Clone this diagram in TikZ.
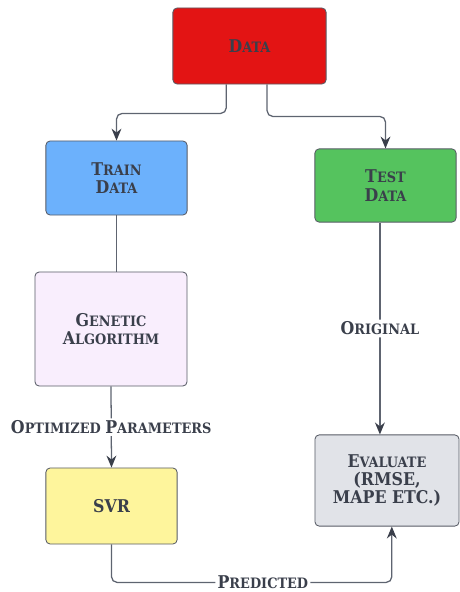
\documentclass[tikz,border=0pt]{standalone}
\usepackage{fontspec}
\setmainfont{DejaVu Serif Condensed}[BoldFont={DejaVu Serif Condensed Bold}]
\usetikzlibrary{arrows.meta,positioning}

\definecolor{datared}{HTML}{E31414}
\definecolor{trainblue}{HTML}{6CB1FC}
\definecolor{testgreen}{HTML}{55C35E}
\definecolor{galilac}{HTML}{F9EEFD}
\definecolor{svryellow}{HTML}{FEF59C}
\definecolor{evalgray}{HTML}{E1E3E8}
\definecolor{inkgray}{HTML}{3A3F4B}
\definecolor{linegray}{HTML}{5E6470}

% big initial + smaller capitals
\newcommand{\capfont}{\fontsize{12.5}{14}\selectfont}
\newcommand{\lowfont}{\fontsize{10.2}{14}\selectfont}
\newcommand{\sk}[2]{{\capfont #1}{\lowfont #2}}

\begin{document}
\begin{tikzpicture}[x=0.025cm,y=-0.025cm,>=Stealth,
      box/.style={draw=inkgray!85,line width=0.6pt,rounded corners=3pt,
        align=center,text=inkgray,font=\bfseries\capfont,inner sep=2pt},
      conn/.style={draw=linegray,line width=0.9pt,rounded corners=4pt},
      tip/.style={-{Stealth[length=8.5pt,width=7pt,inkgray]}},
      lbl/.style={fill=white,text=inkgray,font=\bfseries,inner sep=1.5pt}]
    \useasboundingbox (0,0) rectangle (460,592);

    \node[box,fill=datared,minimum width=3.83cm,minimum height=1.9cm]
      (data) at (249.5,46) {\sk{D}{ATA}};
    \node[box,fill=trainblue,minimum width=3.53cm,minimum height=1.85cm]
      (train) at (116.5,178) {\sk{T}{RAIN}\\[-1pt]\sk{D}{ATA}};
    \node[box,fill=testgreen,minimum width=3.53cm,minimum height=1.83cm]
      (test) at (385.5,185.5) {\sk{T}{EST}\\[-1pt]\sk{D}{ATA}};
    \node[box,fill=galilac,minimum width=3.8cm,minimum height=2.85cm]
      (ga) at (111,329) {\sk{G}{ENETIC}\\[-1pt]\sk{A}{LGORITHM}};
    \node[box,fill=svryellow,minimum width=3.28cm,minimum height=1.9cm]
      (svr) at (111.5,506) {SVR};
    \node[box,fill=evalgray,minimum width=3.6cm,minimum height=2.28cm]
      (eval) at (387,480.5) {\sk{E}{VALUATE}\\[-1pt](RMSE,\\[-1pt]MAPE ETC.)};

    \draw[conn,tip] ([xshift=-0.58cm]data.south) -- ++(0,29) -| (train.north);
    \draw[conn,tip] ([xshift=0.44cm]data.south) -- ++(0,32) -| (test.north);
    \draw[conn] (train.south) -- (train.south |- ga.north);
    \draw[conn,tip] (ga.south) -- (svr.north)
      node[lbl,midway] (optlbl) {\sk{O}{PTIMIZED} \sk{P}{ARAMETERS}};
    \draw[conn,tip] ([xshift=-0.14cm]test.south) -- ([xshift=-0.14cm]test.south |- eval.north)
      node[lbl,midway] (origlbl) {\sk{O}{RIGINAL}};
    \draw[conn,tip] (svr.south) -- ++(0,38) -| ([xshift=0.12cm]eval.south)
      node[lbl,pos=0.27] (predlbl) {\sk{P}{REDICTED}};
\end{tikzpicture}
\end{document}
